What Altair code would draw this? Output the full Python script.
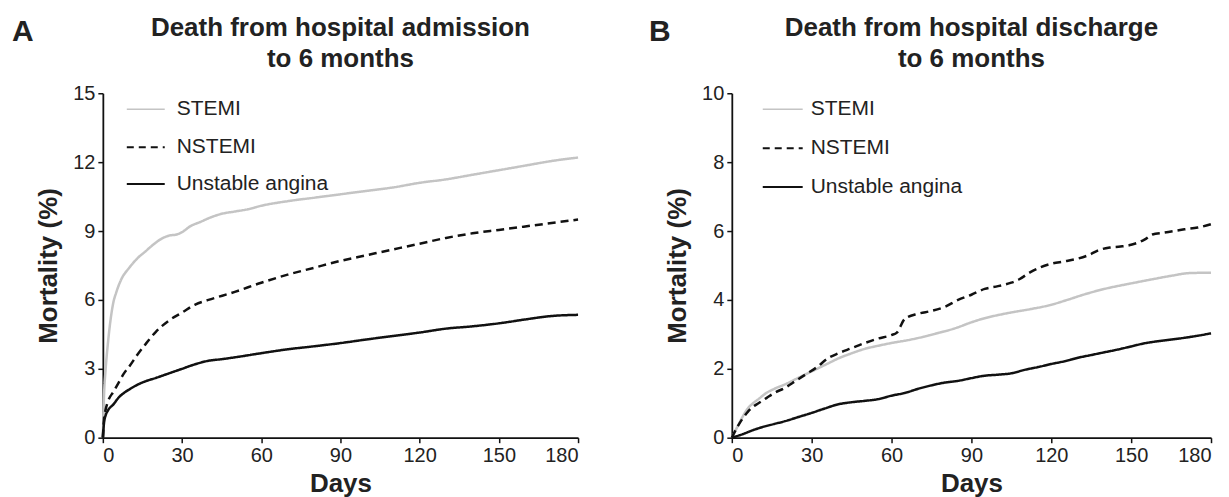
import altair as alt
import pandas as pd

SERIES = ["STEMI", "NSTEMI", "Unstable angina"]
COLORS = ["#c4c4c4", "#111111", "#111111"]
DASHES = [[1, 0], [8, 5], [1, 0]]

X_TICKS = [0, 30, 60, 90, 120, 150, 180]
A_Y_TICKS = [0, 3, 6, 9, 12, 15]
B_Y_TICKS = [0, 2, 4, 6, 8, 10]

# Panel A: from hospital admission
A_STEMI_days = [0, 0.5, 1, 2, 3, 4, 5, 7, 10, 13, 16, 19, 22, 25, 28, 30, 33, 37, 41, 45, 50, 55, 60,
                70, 80, 90, 100, 110, 120, 130, 140, 150, 160, 170, 180]
A_STEMI_vals = [0, 2.0, 2.9, 4.2, 5.2, 5.9, 6.3, 6.9, 7.4, 7.8, 8.1, 8.4, 8.65, 8.8, 8.85, 8.95, 9.2, 9.4,
                9.6, 9.75, 9.85, 9.95, 10.1, 10.3, 10.45, 10.6, 10.75, 10.9, 11.1, 11.25, 11.45, 11.65,
                11.85, 12.05, 12.2]
A_NSTEMI_days = [0, 0.5, 1, 2, 4, 6, 8, 10, 13, 16, 20, 25, 30, 35, 40, 50, 60, 70, 80, 90, 100, 110,
                 120, 130, 140, 150, 160, 170, 180]
A_NSTEMI_vals = [0, 0.9, 1.2, 1.6, 2.0, 2.4, 2.8, 3.1, 3.6, 4.05, 4.6, 5.1, 5.45, 5.8, 6.0, 6.35, 6.75,
                 7.1, 7.4, 7.7, 7.95, 8.2, 8.45, 8.7, 8.9, 9.05, 9.2, 9.35, 9.5]
A_UA_days = [0, 0.5, 1, 2, 4, 6, 8, 10, 13, 16, 20, 25, 30, 35, 40, 45, 50, 60, 70, 80, 90, 100, 110,
             120, 130, 140, 150, 160, 170, 180]
A_UA_vals = [0, 0.7, 0.95, 1.2, 1.45, 1.75, 1.95, 2.1, 2.3, 2.45, 2.6, 2.8, 3.0, 3.2, 3.35, 3.42, 3.5,
             3.68, 3.85, 3.98, 4.12, 4.28, 4.43, 4.58, 4.75, 4.85, 4.98, 5.15, 5.3, 5.35]

# Panel B: from hospital discharge
B_STEMI_days = [0, 2, 4, 6, 8, 10, 13, 16, 20, 24, 28, 32, 36, 40, 45, 50, 55, 60, 66, 72, 78, 84, 90,
                95, 100, 106, 112, 120, 126, 132, 140, 150, 158, 165, 172, 180]
B_STEMI_vals = [0, 0.3, 0.6, 0.85, 1.0, 1.12, 1.3, 1.42, 1.55, 1.7, 1.85, 2.0, 2.15, 2.3, 2.45, 2.58,
                2.67, 2.75, 2.83, 2.93, 3.05, 3.18, 3.35, 3.47, 3.56, 3.65, 3.73, 3.86, 4.0, 4.15, 4.32,
                4.48, 4.6, 4.7, 4.78, 4.79]
B_NSTEMI_days = [0, 2, 4, 6, 8, 10, 13, 16, 20, 24, 28, 32, 36, 40, 45, 50, 55, 60, 62, 65, 70, 75, 80,
                 85, 90, 95, 100, 105, 108, 112, 116, 120, 125, 130, 134, 138, 142, 146, 150, 155, 158,
                 162, 166, 170, 175, 180]
B_NSTEMI_vals = [0, 0.3, 0.55, 0.75, 0.9, 1.0, 1.15, 1.3, 1.45, 1.65, 1.85, 2.05, 2.3, 2.45, 2.6, 2.75,
                 2.88, 2.98, 3.05, 3.45, 3.6, 3.68, 3.8, 4.0, 4.15, 4.32, 4.4, 4.5, 4.6, 4.8, 4.95, 5.05,
                 5.12, 5.2, 5.3, 5.45, 5.52, 5.55, 5.6, 5.75, 5.9, 5.95, 6.0, 6.05, 6.1, 6.2]
B_UA_days = [0, 4, 8, 12, 16, 20, 25, 30, 35, 40, 45, 50, 55, 60, 65, 70, 75, 80, 85, 90, 95, 100, 105,
             110, 115, 120, 125, 130, 135, 140, 145, 150, 155, 160, 165, 170, 175, 180]
B_UA_vals = [0, 0.1, 0.22, 0.32, 0.4, 0.48, 0.6, 0.72, 0.85, 0.97, 1.03, 1.07, 1.12, 1.22, 1.3, 1.42,
             1.52, 1.6, 1.65, 1.73, 1.8, 1.83, 1.87, 1.97, 2.05, 2.14, 2.22, 2.32, 2.4, 2.48, 2.56, 2.65,
             2.74, 2.8, 2.85, 2.9, 2.96, 3.03]

TITLE_A = ["Death from hospital admission", "to 6 months"]
TITLE_B = ["Death from hospital discharge", "to 6 months"]

FONT = "Liberation Sans"
TXT = "#222222"
PLOT_H = 345


def long_df(pairs):
    rows = []
    for name, days, vals in pairs:
        for d, v in zip(days, vals):
            rows.append({"day": d, "value": v, "series": name})
    return pd.DataFrame(rows)


def text_layer(txt, x, y, size, weight="normal", align="left", baseline="alphabetic"):
    return alt.Chart(pd.DataFrame({"t": [txt]})).mark_text(
        font=FONT, fontSize=size, fontWeight=weight, color=TXT, align=align, baseline=baseline
    ).encode(text="t:N", x=alt.value(x), y=alt.value(y))


def panel(df, ymax, yticks, width, letter, letter_x, title, leg_x0, leg_x1, leg_tx, leg_y):
    lines = alt.Chart(df).mark_line(strokeWidth=2.5, interpolate="monotone").encode(
        x=alt.X("day:Q", scale=alt.Scale(domain=[0, 180], nice=False),
                axis=alt.Axis(values=X_TICKS, title="Days", labelPadding=3, titlePadding=5)),
        y=alt.Y("value:Q", scale=alt.Scale(domain=[0, ymax], nice=False),
                axis=alt.Axis(values=yticks, title="Mortality (%)", labelPadding=3, titlePadding=11)),
        color=alt.Color("series:N", scale=alt.Scale(domain=SERIES, range=COLORS), legend=None),
        strokeDash=alt.StrokeDash("series:N", scale=alt.Scale(domain=SERIES, range=DASHES), legend=None),
        order=alt.Order("day:Q"),
    )
    layers = [lines]
    for i, s in enumerate(SERIES):
        kw = dict(color=COLORS[i], strokeWidth=2 if i else 1.5)
        if DASHES[i] != [1, 0]:
            kw["strokeDash"] = [7, 5]
        layers.append(
            alt.Chart(pd.DataFrame({"t": [s]})).mark_rule(**kw).encode(
                x=alt.value(leg_x0), x2=alt.value(leg_x1), y=alt.value(leg_y[i])
            )
        )
        layers.append(text_layer(s, leg_tx, leg_y[i], 21, baseline="middle"))
    cx = width / 2
    layers.append(text_layer(title[0], cx, -57, 26, "bold", align="center"))
    layers.append(text_layer(title[1], cx, -26, 26, "bold", align="center"))
    layers.append(text_layer(letter, letter_x, -52, 30, "bold"))
    return alt.layer(*layers).properties(width=width, height=PLOT_H)


dfA = long_df([("STEMI", A_STEMI_days, A_STEMI_vals),
               ("NSTEMI", A_NSTEMI_days, A_NSTEMI_vals),
               ("Unstable angina", A_UA_days, A_UA_vals)])
dfB = long_df([("STEMI", B_STEMI_days, B_STEMI_vals),
               ("NSTEMI", B_NSTEMI_days, B_NSTEMI_vals),
               ("Unstable angina", B_UA_days, B_UA_vals)])

pA = panel(dfA, 15, A_Y_TICKS, 476, "A", -91, TITLE_A, 24, 62, 74, [16, 54, 91])
pB = panel(dfB, 10, B_Y_TICKS, 480, "B", -83, TITLE_B, 31, 71, 79, [16, 55, 94])

chart = alt.hconcat(pA, pB, spacing=154, bounds="flush").resolve_scale(
    x="independent", y="independent", color="independent", strokeDash="independent"
).properties(
    padding={"left": 4, "top": 7, "right": 5, "bottom": 0}
).configure_view(stroke=None).configure_axis(
    grid=False, domainColor="#111111", domainWidth=1.8, tickColor="#111111", tickWidth=1.5,
    tickSize=5, labelFont=FONT, labelFontSize=20, labelColor=TXT, titleFont=FONT,
    titleFontSize=26, titleFontWeight="bold", titleColor=TXT
)

chart.save("out.html", embed_options={"renderer": "svg", "actions": False})
